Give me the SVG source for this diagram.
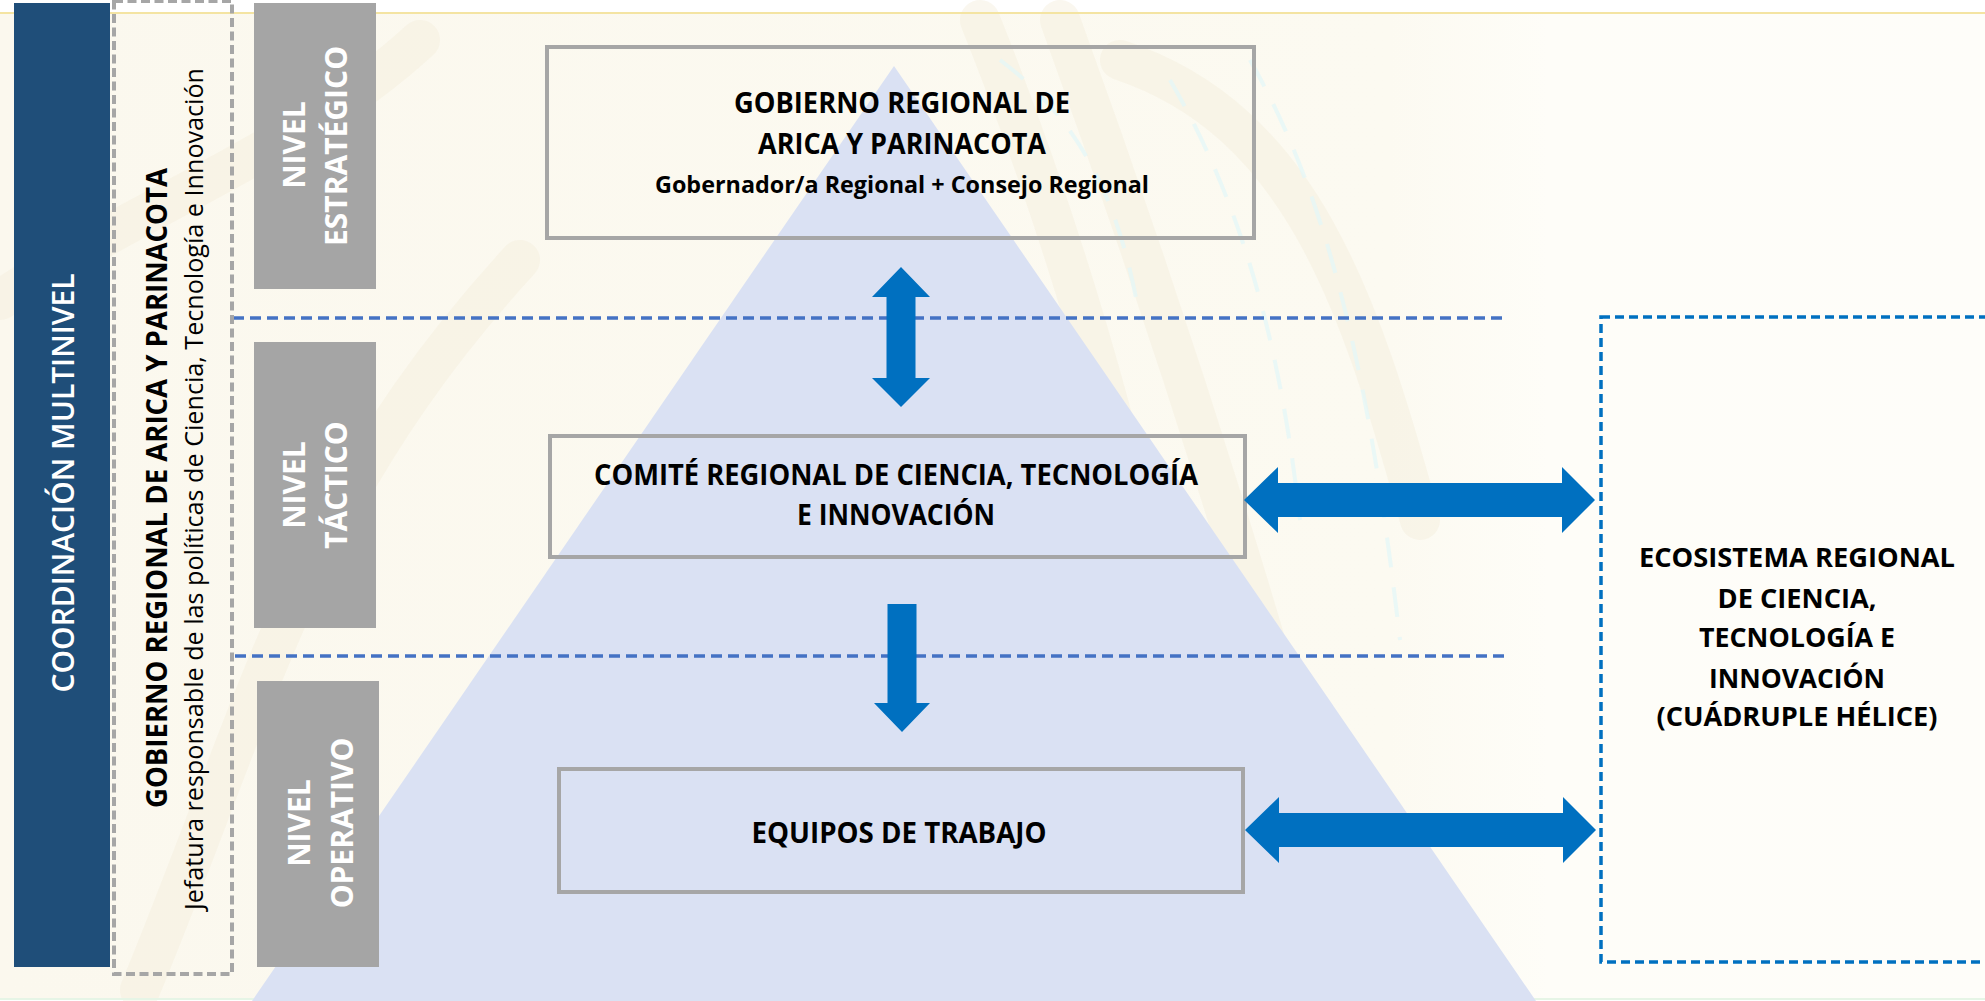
<svg xmlns="http://www.w3.org/2000/svg" width="1985" height="1001" viewBox="0 0 1985 1001">
  <style>
    .bold { font-family: "Open Sans", "Liberation Sans", sans-serif; font-weight: 700; }
    .reg { font-family: "Open Sans", "Liberation Sans", sans-serif; font-weight: 400; }
    .semi { font-family: "Open Sans", "Liberation Sans", sans-serif; font-weight: 600; }
    .box { fill: none; stroke: #A6A6A6; stroke-width: 4; }
    .lvl { fill: #A5A5A5; }
    .lvltxt { fill: #FFFFFF; font-size: 30px; }
    .sep { fill: none; stroke: #4472C4; stroke-width: 3.5; stroke-dasharray: 11 6; }
    .arrow { fill: #0070C0; }
    .dark { fill: #000000; }
  </style>
  <defs>
    <linearGradient id="bgfade" x1="0" y1="0" x2="1" y2="0">
      <stop offset="0" stop-color="#FBF8EE"/>
      <stop offset="0.7" stop-color="#FCFAF1"/>
      <stop offset="0.78" stop-color="#FEFDF8"/>
      <stop offset="1" stop-color="#FEFDF9"/>
    </linearGradient>
  </defs>

  <!-- background -->
  <g id="background">
    <rect x="0" y="0" width="1985" height="1001" fill="#FFFFFF"/>
    <rect x="0" y="13" width="1985" height="986" fill="url(#bgfade)"/>
    <path d="M0,300 C150,200 300,150 420,40 M140,990 C260,700 300,500 520,260 M980,20 C1060,220 1120,420 1180,700 M1060,20 C1140,240 1220,480 1300,760 M1120,60 C1300,120 1360,300 1420,520" fill="none" stroke="#F4EDDC" stroke-width="40" stroke-linecap="round" opacity="0.45"/>
    <path d="M1000,60 C1080,120 1120,200 1140,320 M1170,80 C1240,200 1280,340 1300,520 M1250,60 C1330,200 1370,380 1400,640" fill="none" stroke="#E3F6F8" stroke-width="4" stroke-dasharray="30 20" opacity="0.7"/>
    <line x1="0" y1="13" x2="1985" y2="13" stroke="#F4E4A2" stroke-width="2"/>
    <line x1="0" y1="999" x2="1985" y2="999" stroke="#E6F5E6" stroke-width="2"/>
  </g>

  <!-- pyramid -->
  <g id="pyramid">
    <polygon points="894,66 1536,1001 252,1001" fill="#DAE1F3"/>
  </g>

  <!-- level separators -->
  <g id="level-separators">
    <line class="sep" x1="233" y1="318" x2="1506" y2="318"/>
    <line class="sep" x1="235" y1="656" x2="1510" y2="656"/>
  </g>

  <!-- left column -->
  <g id="coordinacion-multinivel">
    <rect x="14" y="3" width="96" height="964" fill="#1F4E79"/>
    <text class="semi" transform="translate(74,483) rotate(-90)" text-anchor="middle" font-size="30" fill="#FFFFFF" textLength="419" lengthAdjust="spacingAndGlyphs">COORDINACIÓN MULTINIVEL</text>
  </g>

  <g id="gobierno-regional-column">
    <rect x="114" y="1" width="118" height="973" fill="none" stroke="#A6A6A6" stroke-width="4" stroke-dasharray="9 4.5"/>
    <text class="bold dark" transform="translate(167,488) rotate(-90)" text-anchor="middle" font-size="29" textLength="640" lengthAdjust="spacingAndGlyphs">GOBIERNO REGIONAL DE ARICA Y PARINACOTA</text>
    <text class="reg dark" transform="translate(203,489) rotate(-90)" text-anchor="middle" font-size="26" font-weight="500" textLength="842" lengthAdjust="spacingAndGlyphs">Jefatura responsable de las políticas de Ciencia, Tecnología e Innovación</text>
  </g>

  <g id="nivel-estrategico">
    <rect class="lvl" x="254" y="3" width="122" height="286"/>
    <text class="bold lvltxt" transform="translate(305,145) rotate(-90)" text-anchor="middle">NIVEL</text>
    <text class="bold lvltxt" transform="translate(347,146) rotate(-90)" text-anchor="middle">ESTRATÉGICO</text>
  </g>

  <g id="nivel-tactico">
    <rect class="lvl" x="254" y="342" width="122" height="286"/>
    <text class="bold lvltxt" transform="translate(305,485) rotate(-90)" text-anchor="middle">NIVEL</text>
    <text class="bold lvltxt" transform="translate(347,485) rotate(-90)" text-anchor="middle">TÁCTICO</text>
  </g>

  <g id="nivel-operativo">
    <rect class="lvl" x="257" y="681" width="122" height="286"/>
    <text class="bold lvltxt" transform="translate(310,823) rotate(-90)" text-anchor="middle">NIVEL</text>
    <text class="bold lvltxt" transform="translate(353,823) rotate(-90)" text-anchor="middle">OPERATIVO</text>
  </g>

  <!-- pyramid boxes -->
  <g id="gobierno-regional-box">
    <rect class="box" x="547" y="47" width="707" height="191"/>
    <text class="bold dark" x="902" y="113" text-anchor="middle" font-size="28.5" textLength="336" lengthAdjust="spacingAndGlyphs">GOBIERNO REGIONAL DE</text>
    <text class="bold dark" x="902" y="154" text-anchor="middle" font-size="28.5" textLength="288" lengthAdjust="spacingAndGlyphs">ARICA Y PARINACOTA</text>
    <text class="bold dark" x="902" y="193" text-anchor="middle" font-size="24" textLength="494" lengthAdjust="spacingAndGlyphs">Gobernador/a Regional + Consejo Regional</text>
  </g>

  <g id="comite-regional-box">
    <rect class="box" x="550" y="436" width="695" height="121"/>
    <text class="bold dark" x="896" y="485" text-anchor="middle" font-size="28.5" textLength="604" lengthAdjust="spacingAndGlyphs">COMITÉ REGIONAL DE CIENCIA, TECNOLOGÍA</text>
    <text class="bold dark" x="896" y="525" text-anchor="middle" font-size="28.5" textLength="198" lengthAdjust="spacingAndGlyphs">E INNOVACIÓN</text>
  </g>

  <g id="equipos-box">
    <rect class="box" x="559" y="769" width="684" height="123"/>
    <text class="bold dark" x="899" y="843" text-anchor="middle" font-size="28.5" textLength="295" lengthAdjust="spacingAndGlyphs">EQUIPOS DE TRABAJO</text>
  </g>

  <g id="ecosistema-box">
    <rect x="1601" y="317" width="420" height="645" fill="none" stroke="#0070C0" stroke-width="3.5" stroke-dasharray="9 5"/>
    <text class="bold dark" x="1797" y="567" text-anchor="middle" font-size="27" textLength="316" lengthAdjust="spacingAndGlyphs">ECOSISTEMA REGIONAL</text>
    <text class="bold dark" x="1797" y="608" text-anchor="middle" font-size="27" textLength="159" lengthAdjust="spacingAndGlyphs">DE CIENCIA,</text>
    <text class="bold dark" x="1797" y="647" text-anchor="middle" font-size="27" textLength="196" lengthAdjust="spacingAndGlyphs">TECNOLOGÍA E</text>
    <text class="bold dark" x="1797" y="688" text-anchor="middle" font-size="27" textLength="176" lengthAdjust="spacingAndGlyphs">INNOVACIÓN</text>
    <text class="bold dark" x="1797" y="726" text-anchor="middle" font-size="27" textLength="281" lengthAdjust="spacingAndGlyphs">(CUÁDRUPLE HÉLICE)</text>
  </g>

  <!-- connectors -->
  <g id="connectors">
    <path class="arrow" d="M901,267 L930,297 L915.5,297 L915.5,378 L930,378 L901,407 L872,378 L886.5,378 L886.5,297 L872,297 Z"/>
    <path class="arrow" d="M887.5,604 L916.5,604 L916.5,703 L930,703 L902,732 L874,703 L887.5,703 Z"/>
    <path class="arrow" d="M1244,500 L1278,467 L1278,483 L1562,483 L1562,467 L1595,500 L1562,533 L1562,517 L1278,517 L1278,533 Z"/>
    <path class="arrow" d="M1245,830 L1279,797 L1279,813 L1563,813 L1563,797 L1596,830 L1563,863 L1563,847 L1279,847 L1279,863 Z"/>
  </g>
</svg>
